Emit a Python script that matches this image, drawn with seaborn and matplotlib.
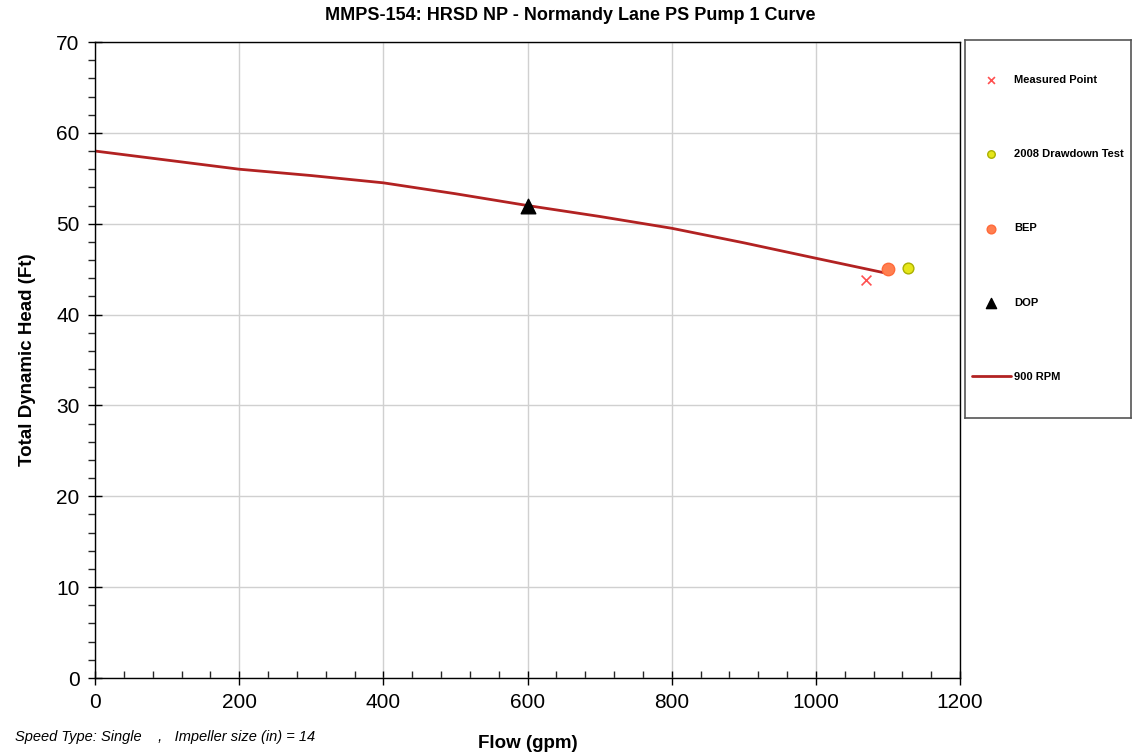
import numpy as np
import pandas as pd
import seaborn as sns
import matplotlib.pyplot as plt
from matplotlib.ticker import MultipleLocator

# pump curve, 900 RPM
flow = [0, 100, 200, 300, 400, 500, 600, 700, 800, 900, 1000, 1095]
head = [58.0, 57.0, 56.0, 55.3, 54.5, 53.3, 52.0, 50.8, 49.5, 47.9, 46.2, 44.6]

measured_flow = [1070]
measured_head = [43.8]
drawdown_flow = [1128]
drawdown_head = [45.1]
bep_flow = [1100]
bep_head = [45.0]
dop_flow = [600]
dop_head = [52.0]

sns.set_style("ticks")
plt.rcParams['font.family'] = ['Liberation Sans', 'DejaVu Sans']
plt.rcParams['text.color'] = 'black'
plt.rcParams['axes.labelcolor'] = 'black'

fig = plt.figure(figsize=(11.32, 7.53), dpi=100)
ax = fig.add_axes([95 / 1132, 75 / 753, 865 / 1132, 636 / 753])

curve = pd.DataFrame({"flow": flow, "head": head})
sns.lineplot(data=curve, x="flow", y="head", color="#b22222", linewidth=2, ax=ax, label="900 RPM")
ax.scatter(measured_flow, measured_head, marker="x", color="#ff5050", s=50, linewidths=1.2, label="Measured Point", zorder=5)
ax.scatter(drawdown_flow, drawdown_head, marker="o", color="#e6e619", edgecolors="#aab000", s=60, label="2008 Drawdown Test", zorder=5)
ax.scatter(bep_flow, bep_head, marker="o", color="#ff7f50", edgecolors="#ff6a3a", s=80, label="BEP", zorder=5)
ax.scatter(dop_flow, dop_head, marker="^", color="black", s=110, label="DOP", zorder=6)

ax.set_xlim(0, 1200)
ax.set_ylim(0, 70)
ax.xaxis.set_major_locator(MultipleLocator(200))
ax.xaxis.set_minor_locator(MultipleLocator(40))
ax.yaxis.set_major_locator(MultipleLocator(10))
ax.yaxis.set_minor_locator(MultipleLocator(2))
ax.grid(True, which="major", color="#d0d0d0", linewidth=1)
ax.set_axisbelow(True)
ax.tick_params(which="major", direction="inout", length=10, width=1, labelsize=15, colors="black", pad=6)
ax.tick_params(axis="x", which="minor", direction="in", length=5, width=1)
ax.tick_params(axis="y", which="minor", direction="out", length=5, width=1)
for sp in ax.spines.values():
    sp.set_color("black")
    sp.set_linewidth(1)

ax.set_xlabel("Flow (gpm)", fontsize=13.5, fontweight="bold", labelpad=16)
ax.set_ylabel("Total Dynamic Head (Ft)", fontsize=13.5, fontweight="bold", labelpad=15)
fig.text(570 / 1132, 1 - 16 / 753, "MMPS-154: HRSD NP - Normandy Lane PS Pump 1 Curve",
         ha="center", va="center", fontsize=13, fontweight="bold")
fig.text(15 / 1132, 1 - 737 / 753, "Speed Type: Single    ,   Impeller size (in) = 14",
         ha="left", va="center", fontsize=10.5, style="italic")

# legend box on the right
lax = fig.add_axes([965 / 1132, (753 - 418) / 753, 166 / 1132, 378 / 753])
lax.set_xticks([])
lax.set_yticks([])
for sp in lax.spines.values():
    sp.set_color("#555555")
    sp.set_linewidth(1.2)

handles, labels = ax.get_legend_handles_labels()
order = ["Measured Point", "2008 Drawdown Test", "BEP", "DOP", "900 RPM"]
hmap = dict(zip(labels, handles))
if ax.get_legend():
    ax.get_legend().remove()
leg = lax.legend([hmap[k] for k in order], order, loc="upper left", bbox_to_anchor=(-0.02, 0.935),
                 frameon=False, prop={"size": 8, "weight": "bold"}, labelspacing=5.8,
                 handlelength=3.5, handletextpad=0.3, markerscale=0.7)

plt.savefig("out.png", dpi=100, facecolor="w")
